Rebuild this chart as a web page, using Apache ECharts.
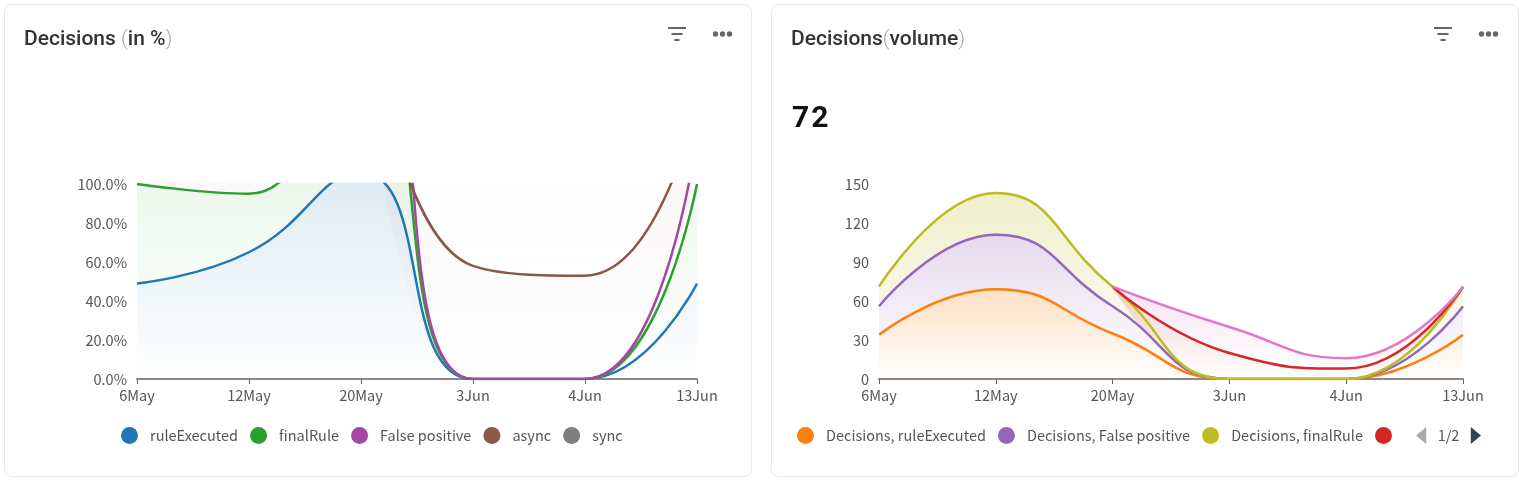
<!DOCTYPE html>
<html><head><meta charset="utf-8">
<script src="https://cdn.jsdelivr.net/npm/echarts@6/dist/echarts.min.js"></script>
<style>
html,body{margin:0;padding:0;background:#fff;width:1524px;height:483px;overflow:hidden}
.card{position:absolute;top:4px;height:471px;width:746px;border:1px solid #e8e8e8;border-radius:8px;box-sizing:content-box;background:#fff}
.title{position:absolute;left:19px;top:18px;font:500 21px/30px Roboto,"Noto Sans",sans-serif;color:#333;letter-spacing:0}
.title i{font-style:normal;font-weight:300;color:#aaa}
.big{position:absolute;left:20px;top:94px;font:700 30px/36px Roboto,sans-serif;color:#111;letter-spacing:2px}
.chart{position:absolute;left:0;top:0;width:746px;height:471px}
svg{position:absolute;top:20px}
</style></head><body>
<div class="card" style="left:4px">
  <div class="chart" id="c1"></div>
  <div class="title">Decisions <i>(</i>in %<i>)</i></div>
  <svg style="left:662px" width="22" height="18"><path d="M1 3H19M4.5 9H15.5M7.5 15H12.5" stroke="#666" stroke-width="2"/></svg>
  <svg style="left:707px" width="24" height="18"><circle cx="3.500" cy="9" r="2.700" fill="#666"/><circle cx="10.500" cy="9" r="2.700" fill="#666"/><circle cx="17.500" cy="9" r="2.700" fill="#666"/></svg>
</div>
<div class="card" style="left:771px">
  <div class="chart" id="c2"></div>
  <div class="title">Decisions<i>(</i>volume<i>)</i></div>
  <div class="big">72</div>
  <svg style="left:661px" width="22" height="18"><path d="M1 3H19M4.5 9H15.5M7.5 15H12.5" stroke="#666" stroke-width="2"/></svg>
  <svg style="left:706px" width="24" height="18"><circle cx="3.500" cy="9" r="2.700" fill="#666"/><circle cx="10.500" cy="9" r="2.700" fill="#666"/><circle cx="17.500" cy="9" r="2.700" fill="#666"/></svg>
</div>
<script>
const categories=['6May','12May','20May','3Jun','4Jun','13Jun'];
const pctRule=[49,65,106,0,0,49];
const pctFinal=[51,30,64,0,0,51];
const pctFalse=[24,30,25,0,0,24];
const pctAsync=[null,null,20,58,53,16];
const pctSync=[null,null,20,62,67,40];
const volRule=[34,69,35,0,0,34];
const volFalse=[22,42,21,0,0,22];
const volFinal=[15,32,15,0,0,15];
const volRed=[null,null,0,20,8,0];
const volPink=[null,null,0,20,8,0];
const FONT='"Noto Sans CJK SC","Noto Sans",sans-serif';
function hexA(h,a){const n=parseInt(h.slice(1),16);return `rgba(${n>>16},${n>>8&255},${n&255},${a})`}
function ser(name,data,color,alpha){return {name,data,type:'line',stack:'t',smooth:true,showSymbol:false,symbol:'none',
  lineStyle:{color,width:2.500},itemStyle:{color},
  areaStyle:{color:{type:'linear',x:0,y:0,x2:0,y2:1,colorStops:[{offset:0,color:hexA(color,alpha)},{offset:1,color:hexA(color,0)}]}}}}
function base(gridLeft,gridWidth,yAxis,series,legend){return {animation:false,
  grid:{left:gridLeft,width:gridWidth,top:179,height:195},
  xAxis:{type:'category',boundaryGap:false,data:categories,
    axisLine:{lineStyle:{color:'#888',width:2}},axisTick:{alignWithLabel:true,length:5,lineStyle:{color:'#666'}},
    axisLabel:{interval:0,fontFamily:FONT,fontSize:14.500,color:'#555',margin:9}},
  yAxis:Object.assign({type:'value',min:0,axisLine:{show:false},axisTick:{show:false},splitLine:{show:false}},yAxis),
  legend,series};}
const yLabel={fontFamily:FONT,fontSize:14.500,color:'#555',margin:10,padding:[0,0,2,0]};
const legText={fontFamily:FONT,fontSize:14.500,color:'#555',padding:[0,0,0,7]};
echarts.init(document.getElementById('c1')).setOption(base(132,560,
 {max:100,interval:20,axisLabel:Object.assign({formatter:v=>v.toFixed(1)+'%'},yLabel)},
 [ser('ruleExecuted',pctRule,'#1f77b4',.22),ser('finalRule',pctFinal,'#2ca02c',.2),ser('False positive',pctFalse,'#a349a4',.12),ser('async',pctAsync,'#8c564b',.12),ser('sync',pctSync,'#7f7f7f',.1)],
 {type:'plain',bottom:27,left:111,icon:'circle',itemWidth:17,itemHeight:17,itemGap:12,textStyle:legText}));
echarts.init(document.getElementById('c2')).setOption(base(107,584,
 {max:150,interval:30,axisLabel:yLabel},
 [ser('Decisions, ruleExecuted',volRule,'#ff7f0e',.35),ser('Decisions, False positive',volFalse,'#9467bd',.35),ser('Decisions, finalRule',volFinal,'#bcbd22',.35),ser('Decisions, async',volRed,'#d62728',.3),ser('Decisions, sync',volPink,'#e377c2',.3)],
 {type:'scroll',bottom:27,left:20,width:684,icon:'circle',itemWidth:17,itemHeight:17,itemGap:12,textStyle:legText,pageTextStyle:{fontFamily:FONT,fontSize:14.500,color:'#555'},pageIconSize:[11,17],pageButtonGap:12,pageIconColor:'#2f4554',pageIconInactiveColor:'#aaa'}));
</script>
</body></html>
